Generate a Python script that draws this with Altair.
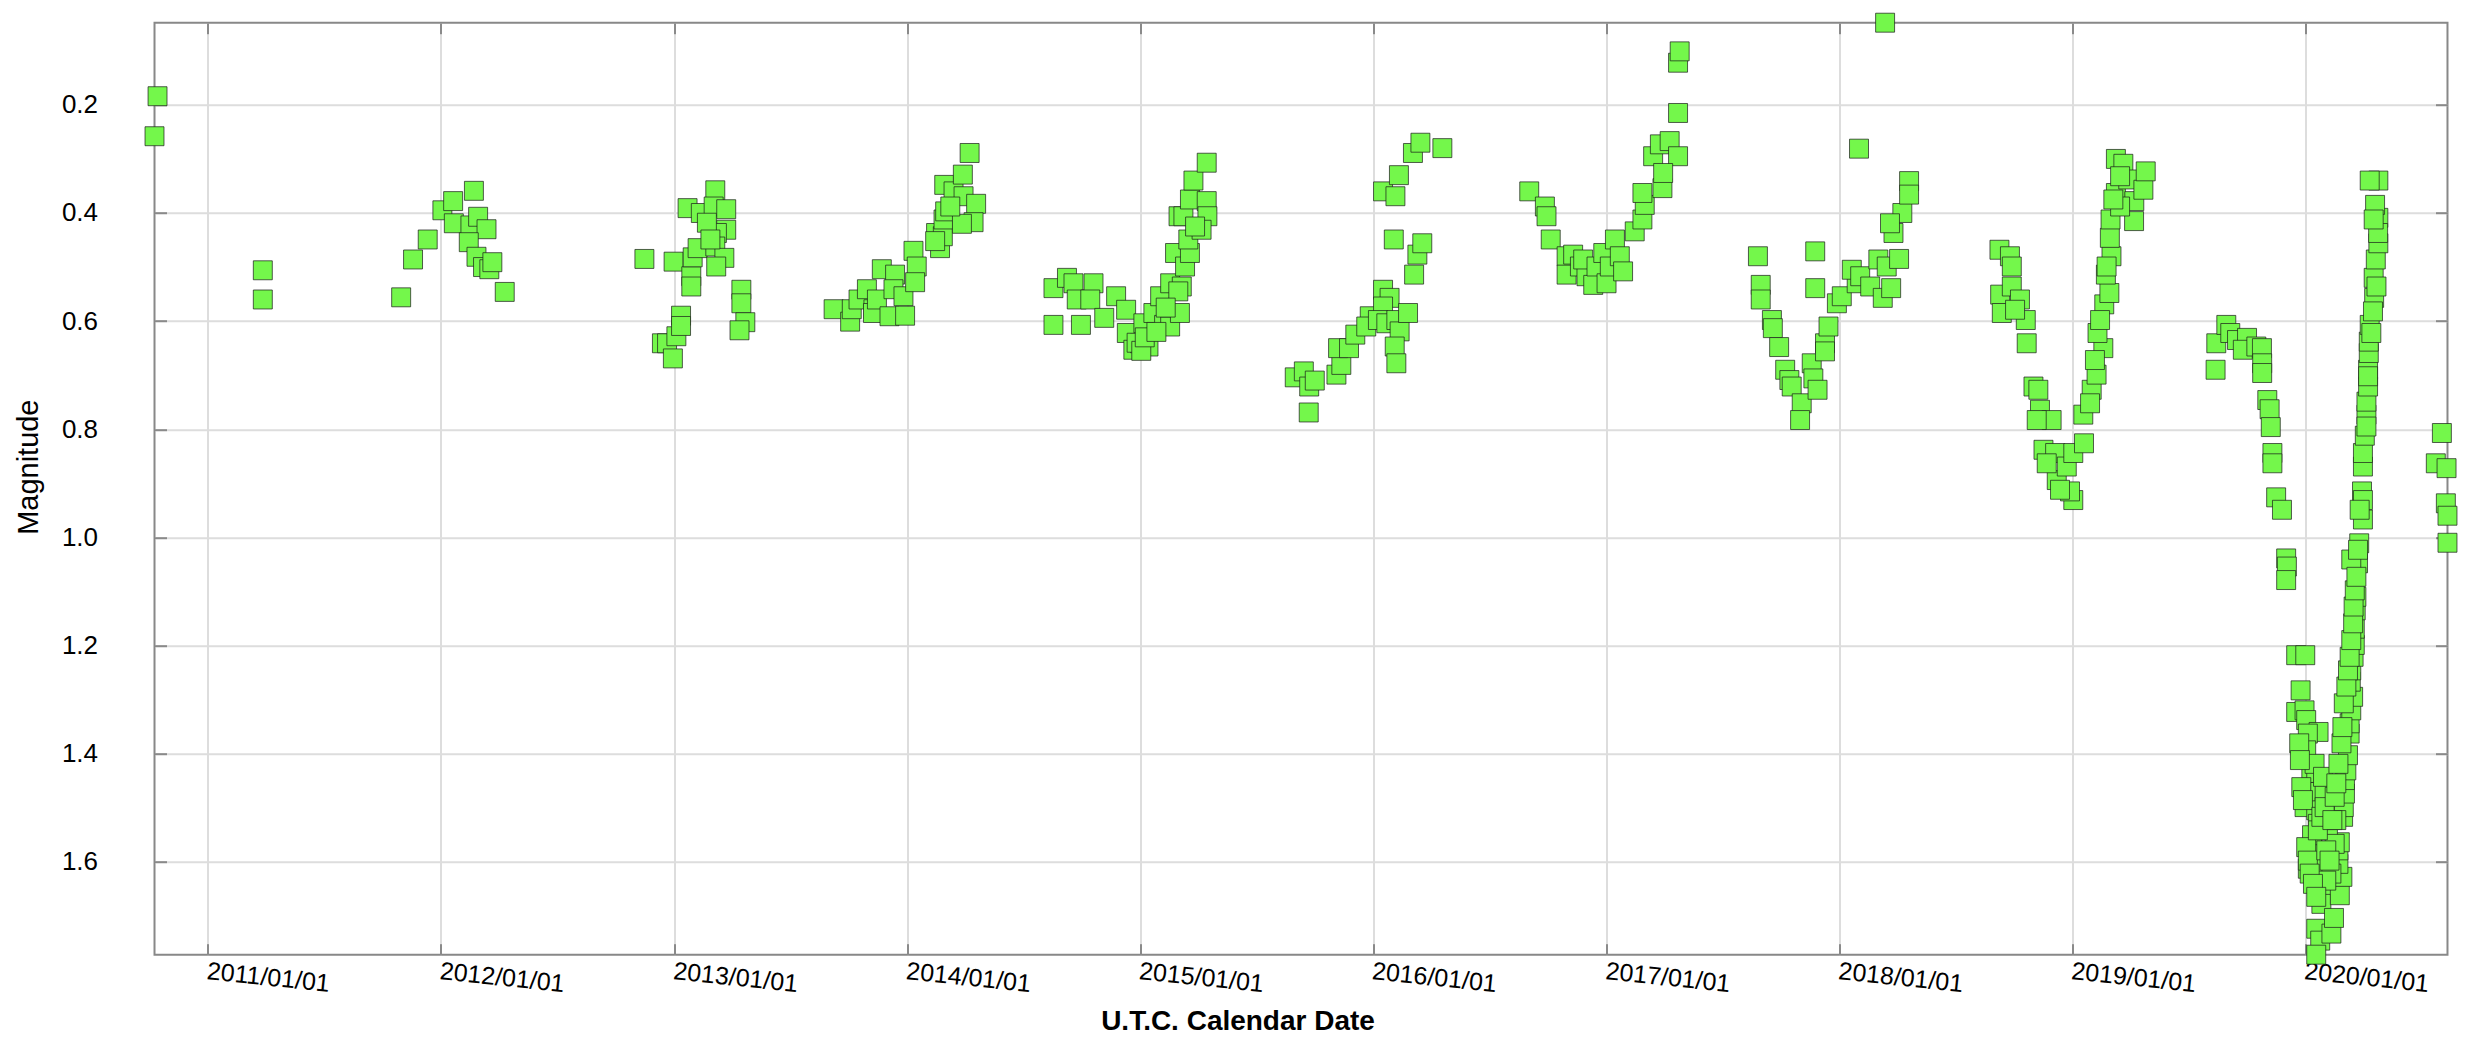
import altair as alt
import pandas as pd
import numpy as np

t_vals = [
    # 2010
    2010.771, 2010.784,
    # 2011
    2011.236, 2011.236,
    # 2011/12 season
    2011.830, 2011.881, 2011.944, 2012.007, 2012.053, 2012.142, 2012.056, 2012.127,
    2012.160, 2012.196, 2012.120, 2012.153, 2012.181, 2012.208, 2012.221, 2012.274,
    # 2012/13 season
    2012.872, 2012.947, 2012.969, 2012.994, 2012.997, 2013.009, 2013.029, 2013.029,
    2013.057, 2013.073, 2013.073, 2013.079, 2013.100, 2013.114, 2013.176, 2013.169,
    2013.223, 2013.223, 2013.183, 2013.176, 2013.215, 2013.180, 2013.140, 2013.155,
    2013.288, 2013.288, 2013.305, 2013.280,
    # 2013/14 season
    2013.684, 2013.755, 2013.762, 2013.791, 2013.827, 2013.855, 2013.853, 2013.891,
    2013.870, 2013.924, 2013.948, 2013.941, 2013.984, 2013.991, 2014.027, 2014.041,
    2014.034, 2014.124, 2014.141, 2014.153, 2014.156, 2014.163, 2014.159, 2014.199,
    2014.239, 2014.268, 2014.242, 2014.296, 2014.285, 2014.235, 2014.185, 2014.120,
    # 2014/15 season
    2014.628, 2014.628, 2014.686, 2014.714, 2014.746, 2014.728, 2014.800, 2014.786,
    2014.846, 2014.897, 2014.940, 2014.943, 2014.971, 2015.000, 2015.036, 2015.014,
    2015.057, 2015.103, 2015.086, 2015.129, 2015.150, 2015.165, 2015.129, 2015.171,
    2015.179, 2015.193, 2015.214, 2015.207, 2015.186, 2015.214, 2015.229, 2015.286,
    2015.286, 2015.289, 2015.264, 2015.236, 2015.164, 2014.985, 2015.005, 2015.020,
    2015.070, 2015.110,
    # 2015/16 season
    2015.664, 2015.703, 2015.726, 2015.750, 2015.724, 2015.843, 2015.864, 2015.850,
    2015.897, 2015.924, 2015.986, 2015.971, 2016.043, 2016.071, 2016.043, 2016.021,
    2016.057, 2016.100, 2016.114, 2016.093, 2016.100, 2016.150, 2016.043, 2016.096,
    2016.111, 2016.171, 2016.203, 2016.297, 2016.089, 2016.190, 2016.211, 2016.176,
    # 2016/17 season
    2016.669, 2016.736, 2016.743, 2016.761, 2016.829, 2016.829, 2016.857, 2016.886,
    2016.914, 2016.900, 2016.943, 2016.957, 2016.986, 2017.000, 2017.014, 2017.036,
    2017.057, 2017.071, 2017.121, 2017.154, 2017.164, 2017.154, 2017.200, 2017.229,
    2017.271, 2017.307, 2017.240, 2017.307, 2017.307, 2017.314, 2017.243,
    # 2017/18 season
    2017.650, 2017.662, 2017.662, 2017.710, 2017.714, 2017.741, 2017.767, 2017.785,
    2017.795, 2017.838, 2017.831, 2017.881, 2017.888, 2017.906, 2017.896, 2017.896,
    2017.938, 2017.953, 2017.938, 2017.989, 2018.010, 2018.074, 2018.053, 2018.089,
    2018.084, 2018.196, 2018.132, 2018.167, 2018.186, 2018.222, 2018.203, 2018.232,
    2018.256, 2018.270, 2018.299, 2018.299, 2018.217,
    # 2018/19 season
    2018.687, 2018.732, 2018.740, 2018.690, 2018.697, 2018.740, 2018.775, 2018.800,
    2018.804, 2018.833, 2018.854, 2018.861, 2018.911, 2018.876, 2018.926, 2018.933,
    2018.976, 2019.004, 2018.990, 2019.004, 2019.050, 2019.047, 2019.083, 2019.104,
    2019.133, 2019.108, 2019.137, 2019.159, 2019.144, 2019.168, 2019.161, 2019.164,
    2019.187, 2019.187, 2019.219, 2019.240, 2019.266, 2019.305, 2019.315, 2019.265,
    2019.205, 2019.076, 2019.097, 2019.119, 2019.147, 2019.176, 2019.205, 2018.754,
    2018.847, 2018.890, 2018.947,
    # 2019/20 season (Great Dimming)
    2019.618, 2019.615, 2019.661, 2019.678, 2019.707, 2019.750, 2019.732, 2019.790,
    2019.814, 2019.815, 2019.815, 2019.837, 2019.847, 2019.852, 2019.859, 2019.859,
    2019.875, 2019.900, 2019.918, 2019.921, 2019.918, 2019.961, 2020.000, 2019.980,
    2019.961, 2019.997, 2020.004, 2020.057, 2020.011, 2020.004, 2020.026, 2020.047,
    2019.997, 2019.997, 2020.062, 2020.083, 2020.047, 2020.054, 2020.033, 2020.011,
    2020.062, 2020.076, 2020.069, 2020.047, 2020.064, 2020.047, 2020.112, 2020.123,
    2020.148, 2020.159, 2020.142, 2020.142, 2020.148, 2020.162, 2020.165, 2020.170,
    2020.170, 2020.176, 2020.183, 2020.190, 2020.190, 2020.197, 2020.205, 2020.195,
    2020.197, 2020.207, 2020.212, 2020.212, 2020.216, 2020.219, 2020.226, 2020.197,
    2020.231, 2020.112, 2020.090, 2020.097, 2020.126, 2020.133, 2020.040, 2020.076,
    2020.029, 2020.247, 2020.243, 2020.247, 2020.247, 2020.255, 2020.262, 2020.262,
    2020.269, 2020.269, 2020.272, 2020.272, 2020.276, 2020.295, 2020.293, 2020.302,
    2020.313, 2020.313, 2020.299, 2020.313, 2020.276,
    2019.974, 2019.977, 2019.983, 2019.990, 2020.004, 2020.011, 2020.019, 2020.033,
    2020.047, 2020.054, 2020.069, 2020.083, 2020.090, 2020.104, 2020.116, 2020.126,
    2020.133, 2020.142, 2020.155, 2020.159, 2020.165, 2020.176, 2020.183, 2020.190,
    2020.197, 2020.205, 2020.207, 2020.212, 2020.219, 2020.226, 2020.247, 2020.233,
    2020.262, 2020.269, 2020.283, 2020.290, 2020.305, 2020.312, 2020.293,
    # 2020 summer
    2020.585, 2020.559, 2020.605, 2020.602, 2020.609, 2020.609,
]

mag_vals = [
    # 2010
    0.258, 0.184,
    # 2011
    0.506, 0.560,
    # 2011/12
    0.556, 0.486, 0.449, 0.395, 0.378, 0.359, 0.419, 0.423,
    0.407, 0.430, 0.454, 0.481, 0.500, 0.504, 0.491, 0.546,
    # 2012/13
    0.485, 0.641, 0.641, 0.669, 0.490, 0.628, 0.590, 0.609,
    0.391, 0.517, 0.536, 0.482, 0.465, 0.400, 0.358, 0.388,
    0.393, 0.431, 0.437, 0.462, 0.483, 0.499, 0.418, 0.449,
    0.542, 0.567, 0.602, 0.617,
    # 2013/14
    0.578, 0.601, 0.578, 0.560, 0.541, 0.578, 0.585, 0.504,
    0.560, 0.591, 0.514, 0.541, 0.554, 0.590, 0.470, 0.499,
    0.528, 0.437, 0.465, 0.443, 0.412, 0.397, 0.348, 0.360,
    0.329, 0.289, 0.369, 0.383, 0.417, 0.420, 0.388, 0.452,
    # 2014/15
    0.539, 0.607, 0.520, 0.530, 0.607, 0.560, 0.530, 0.560,
    0.594, 0.554, 0.579, 0.622, 0.653, 0.641, 0.647, 0.604,
    0.585, 0.607, 0.554, 0.530, 0.474, 0.406, 0.610, 0.585,
    0.536, 0.499, 0.474, 0.449, 0.406, 0.375, 0.340, 0.307,
    0.378, 0.406, 0.431, 0.425, 0.545, 0.640, 0.655, 0.630,
    0.620, 0.575,
    # 2015/16
    0.704, 0.693, 0.721, 0.710, 0.769, 0.699, 0.681, 0.650,
    0.650, 0.625, 0.591, 0.610, 0.542, 0.557, 0.573, 0.598,
    0.604, 0.598, 0.619, 0.647, 0.678, 0.585, 0.360, 0.369,
    0.330, 0.289, 0.270, 0.280, 0.449, 0.477, 0.456, 0.514,
    # 2016/17
    0.360, 0.388, 0.406, 0.449, 0.480, 0.514, 0.477, 0.499,
    0.517, 0.486, 0.533, 0.499, 0.474, 0.530, 0.499, 0.449,
    0.480, 0.508, 0.434, 0.412, 0.385, 0.363, 0.295, 0.273,
    0.267, 0.295, 0.354, 0.215, 0.122, 0.101, 0.326,
    # 2017/18
    0.480, 0.533, 0.560, 0.598, 0.613, 0.648, 0.690, 0.709,
    0.721, 0.752, 0.783, 0.678, 0.706, 0.727, 0.471, 0.539,
    0.641, 0.610, 0.656, 0.567, 0.554, 0.530, 0.505, 0.517,
    0.281, 0.048, 0.536, 0.486, 0.557, 0.539, 0.499, 0.437,
    0.485, 0.400, 0.341, 0.366, 0.419,
    # 2018/19
    0.468, 0.480, 0.499, 0.551, 0.585, 0.536, 0.560, 0.598,
    0.641, 0.721, 0.727, 0.764, 0.783, 0.838, 0.844, 0.894,
    0.869, 0.931, 0.915, 0.844, 0.826, 0.773, 0.727, 0.699,
    0.650, 0.622, 0.569, 0.548, 0.514, 0.480, 0.446, 0.412,
    0.363, 0.300, 0.309, 0.338, 0.378, 0.357, 0.323, 0.415,
    0.388, 0.752, 0.672, 0.598, 0.499, 0.375, 0.332, 0.579,
    0.783, 0.863, 0.912,
    # 2019/20
    0.641, 0.690, 0.607, 0.622, 0.635, 0.631, 0.653, 0.647,
    0.650, 0.678, 0.696, 0.746, 0.763, 0.796, 0.844, 0.863,
    0.926, 0.949, 1.039, 1.054, 1.079, 1.218, 1.218, 1.283,
    1.323, 1.320, 1.338, 1.360, 1.363, 1.394, 1.428, 1.449,
    1.471, 1.499, 1.471, 1.477, 1.505, 1.530, 1.579, 1.613,
    1.604, 1.653, 1.678, 1.724, 1.746, 1.772, 1.733, 1.704,
    1.662, 1.628, 1.604, 1.579, 1.564, 1.517, 1.499, 1.474,
    1.449, 1.431, 1.403, 1.363, 1.344, 1.320, 1.295, 1.267,
    1.246, 1.221, 1.199, 1.169, 1.135, 1.110, 1.048, 1.041,
    1.011, 1.622, 1.635, 1.542, 1.567, 1.523, 1.419, 1.443,
    1.551, 0.967, 0.915, 0.869, 0.844, 0.812, 0.773, 0.749,
    0.721, 0.690, 0.659, 0.638, 0.607, 0.557, 0.520, 0.486,
    0.456, 0.409, 0.385, 0.340, 0.340,
    1.381, 1.412, 1.462, 1.486, 1.573, 1.598, 1.622, 1.641,
    1.665, 1.542, 1.517, 1.499, 1.579, 1.598, 1.523, 1.480,
    1.455, 1.419, 1.381, 1.351, 1.307, 1.276, 1.246, 1.221,
    1.190, 1.159, 1.128, 1.098, 1.073, 1.023, 0.931, 0.949,
    0.795, 0.702, 0.622, 0.582, 0.536, 0.437, 0.412,
    # 2020 summer
    0.807, 0.863, 0.872, 0.937, 0.960, 1.010,
]

year_ticks = [2011, 2012, 2013, 2014, 2015, 2016, 2017, 2018, 2019, 2020]
mag_ticks = [0.2, 0.4, 0.6, 0.8, 1.0, 1.2, 1.4, 1.6]


def decyear_to_ms(y):
    yr = int(np.floor(y))
    start = pd.Timestamp(yr, 1, 1)
    end = pd.Timestamp(yr + 1, 1, 1)
    ts = start + (end - start) * (y - yr)
    return int(ts.value // 10**6)


ms = [decyear_to_ms(v) for v in t_vals]
df = pd.DataFrame({"t": ms, "mag": mag_vals})

x_dom = [min(ms), max(ms)]
y_dom = [min(mag_vals), max(mag_vals)]
x_tick_ms = [int(pd.Timestamp(y, 1, 1).value // 10**6) for y in year_ticks]

FONT = "Liberation Sans"
GRID = "#dddddd"
TICK = "#8a8a8a"

x_scale = alt.Scale(type="utc", domain=x_dom)
y_scale = alt.Scale(domain=y_dom, reverse=True, nice=False, zero=False)

points = alt.Chart(df).mark_square(
    size=360, filled=True, color="#74F74B", stroke="#1a1a1a",
    strokeWidth=1, strokeOpacity=0.7, opacity=1
).encode(
    x=alt.X("t:T", scale=x_scale, axis=alt.Axis(
        orient="bottom", values=x_tick_ms, format="%Y/%m/%d", formatType="time",
        labelAngle=6, labelAlign="left", labelBaseline="top", labelPadding=4,
        labelFont=FONT, labelFontSize=25, labelColor="#000000", labelFlush=False,
        labelOverlap=False,
        domain=False, offset=-11, tickSize=11, tickColor=TICK, tickWidth=2,
        grid=True, gridColor=GRID, gridWidth=2,
        title="U.T.C. Calendar Date", titleFont=FONT, titleFontSize=28,
        titleFontWeight="bold", titleColor="#000000",
        titleX=1083, titleY=78, titleAlign="center", titleBaseline="middle",
        titleAnchor="start",
    )),
    y=alt.Y("mag:Q", scale=y_scale, axis=alt.Axis(
        orient="left", values=mag_ticks, format=".1f",
        labelFont=FONT, labelFontSize=26, labelColor="#000000", labelPadding=57,
        domain=False, offset=-12, tickSize=12, tickColor=TICK, tickWidth=2,
        grid=True, gridColor=GRID, gridWidth=2,
        title="Magnitude", titleFont=FONT, titleFontSize=29,
        titleFontWeight="normal", titleColor="#000000",
        titleX=-138, titleY=444, titleAlign="center", titleBaseline="middle",
        titleAngle=270, titleAnchor="start",
    )),
)

ghost = alt.Chart(df).mark_square(size=360, opacity=0).encode(
    x=alt.X("t:T", scale=x_scale, axis=alt.Axis(
        orient="top", values=x_tick_ms, labels=False, domain=False,
        offset=-11, tickSize=11, tickColor=TICK, tickWidth=2, grid=False,
        title=None,
    )),
    y=alt.Y("mag:Q", scale=y_scale, axis=alt.Axis(
        orient="right", values=mag_ticks, labels=False, domain=False,
        offset=-12, tickSize=12, tickColor=TICK, tickWidth=2, grid=False,
        title=None,
    )),
)

chart = alt.layer(ghost, points).resolve_scale(
    x="independent", y="independent"
).properties(
    width=2293, height=932,
    padding={"left": 146.5, "top": 14.7, "right": 12, "bottom": 85},
    autosize=alt.AutoSizeParams(type="none"),
    background="#ffffff",
).configure_view(stroke="#888888", strokeWidth=2)

chart.save("out.html", embed_options={"renderer": "svg", "actions": False})
